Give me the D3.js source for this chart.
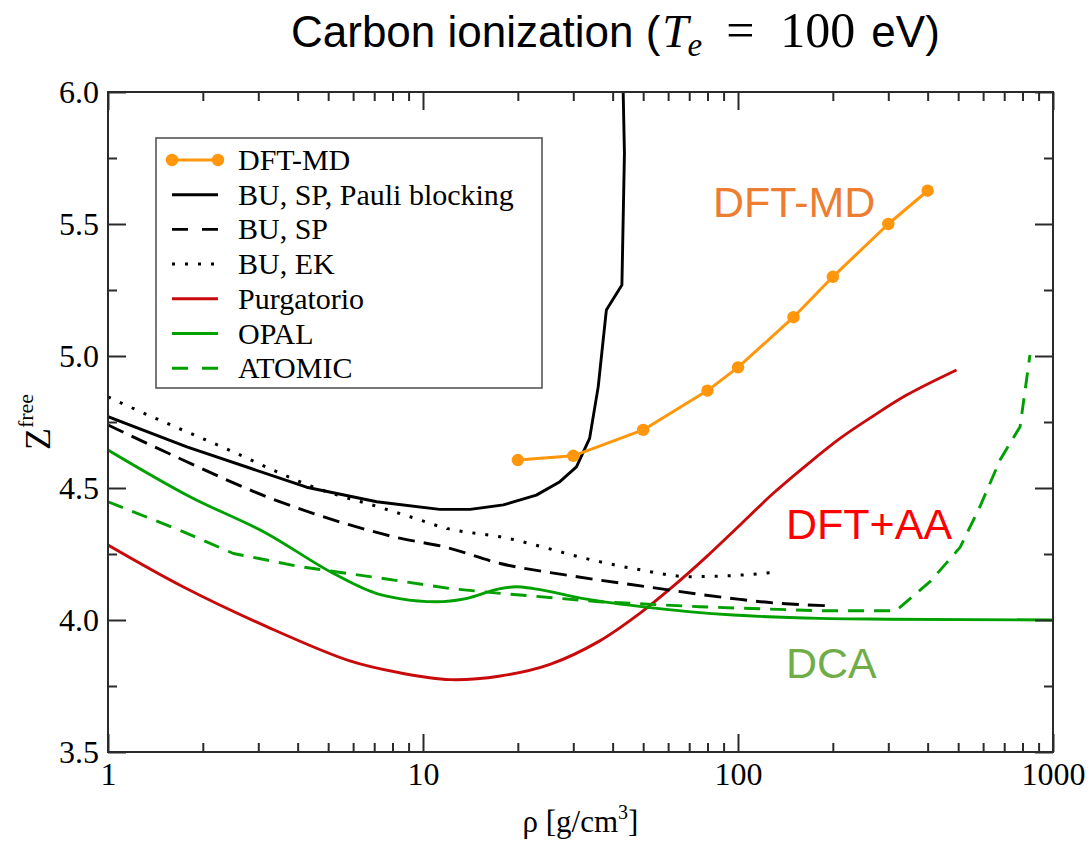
<!DOCTYPE html>
<html>
<head>
<meta charset="utf-8">
<script src="https://cdn.jsdelivr.net/npm/d3@7"></script>
<style>
  body { margin: 0; background: #fff; }
  svg text { fill: #000; }
</style>
</head>
<body>
<svg id="chart" width="1091" height="842"></svg>
<script>
// ---- Data: mean free charge of carbon at T_e = 100 eV versus mass density ----
const dftmdRho = [20, 30, 50, 80, 100, 150, 200, 300, 400];
const dftmdZ   = [4.606, 4.622, 4.72, 4.869, 4.957, 5.147, 5.300, 5.500, 5.626];

const pauliRho = [1, 1.78, 4.27, 7.13, 11.3, 14.1, 18.0, 22.9, 27.2, 30.7, 33.8, 36.0, 38.2, 42.8, 43.6, 43.2];
const pauliZ   = [4.77, 4.656, 4.503, 4.448, 4.419, 4.419, 4.436, 4.473, 4.524, 4.58, 4.688, 4.884, 5.174, 5.269, 5.768, 6.0];

const buspRho = [1, 1.73, 3.19, 5.86, 8.43, 11.6, 17.6, 28.6, 51.2, 101.5, 129, 194];
const buspZ   = [4.739, 4.606, 4.467, 4.36, 4.31, 4.278, 4.214, 4.17, 4.126, 4.078, 4.065, 4.054];

const buekRho = [1, 1.12, 2.38, 4.6, 7.48, 9.1, 11.9, 17.6, 36.3, 48.9, 70.3, 101.5, 126];
const buekZ   = [4.845, 4.818, 4.648, 4.499, 4.423, 4.391, 4.347, 4.315, 4.221, 4.19, 4.164, 4.17, 4.179];

const purgRho = [1, 1.73, 3.19, 5.86, 8.43, 12.2, 17.6, 25.3, 36.3, 48.9, 62.3, 79.5, 101.5, 129.4, 165, 210.8, 268.8, 343, 494];
const purgZ   = [4.284, 4.126, 3.975, 3.845, 3.80, 3.774, 3.788, 3.832, 3.92, 4.026, 4.128, 4.24, 4.36, 4.48, 4.587, 4.688, 4.773, 4.852, 4.947];

const opalRho = [1, 1.82, 3.19, 5.2, 7.13, 8.43, 11.0, 13.7, 17.6, 19.8, 22.4, 32.3, 52.5, 96.7, 182, 300, 1000];
const opalZ   = [4.644, 4.467, 4.328, 4.176, 4.1, 4.081, 4.069, 4.081, 4.119, 4.126, 4.119, 4.081, 4.047, 4.019, 4.006, 4.003, 4.0];

const atomicRho = [1, 1.73, 2.5, 4.07, 7.48, 12.2, 17.6, 36.3, 75.7, 182, 317, 407, 507, 586, 679, 786, 845];
const atomicZ   = [4.448, 4.335, 4.252, 4.202, 4.157, 4.119, 4.101, 4.069, 4.05, 4.035, 4.035, 4.145, 4.275, 4.429, 4.606, 4.732, 5.004];

const legendLabels = ["DFT-MD", "BU, SP, Pauli blocking", "BU, SP", "BU, EK", "Purgatorio", "OPAL", "ATOMIC"];

const xMajorTicks = [1, 10, 100, 1000];
const xMinorTicks = [2,3,4,5,6,7,8,9, 20,30,40,50,60,70,80,90, 200,300,400,500,600,700,800,900];
const yMajorTicks = [3.5, 4.0, 4.5, 5.0, 5.5, 6.0];
const yMinorTicks = [3.75, 4.25, 4.75, 5.25, 5.75];

const annotationTexts = ["DFT-MD", "DFT+AA", "DCA"];

// ---- Layout ----
const svg = d3.select("#chart");
const plot = { left: 108, right: 1053, top: 92, bottom: 752 };

const x = d3.scaleLog().domain([1, 1000]).range([plot.left, plot.right]);
const y = d3.scaleLinear().domain([3.5, 6.0]).range([plot.bottom, plot.top]);

const serif = "'Liberation Serif', 'Times New Roman', serif";
const sans = "'Liberation Sans', Arial, sans-serif";
const axisColor = "#2a2a2a";

// clip for the curves
svg.append("defs").append("clipPath").attr("id", "plotClip")
  .append("rect")
  .attr("x", plot.left).attr("y", plot.top)
  .attr("width", plot.right - plot.left).attr("height", plot.bottom - plot.top);

// ---- Series styles ----
const zip = (a, b) => a.map((v, i) => [v, b[i]]);
const series = [
  { key: "dftmd",  pts: zip(dftmdRho, dftmdZ),   color: "#ff960c", width: 3,   dash: null,    curve: d3.curveLinear,     markers: true },
  { key: "pauli",  pts: zip(pauliRho, pauliZ),   color: "#000",    width: 2.9, dash: null,    curve: d3.curveLinear },
  { key: "busp",   pts: zip(buspRho, buspZ),     color: "#000",    width: 2.9, dash: "17,9",  curve: d3.curveMonotoneX },
  { key: "buek",   pts: zip(buekRho, buekZ),     color: "#000",    width: 3,   dash: "3,10",  curve: d3.curveMonotoneX },
  { key: "purg",   pts: zip(purgRho, purgZ),     color: "#c80a0a", width: 2.9, dash: null,    curve: d3.curveCatmullRom.alpha(0.5) },
  { key: "opal",   pts: zip(opalRho, opalZ),     color: "#00a000", width: 2.9, dash: null,    curve: d3.curveMonotoneX },
  { key: "atomic", pts: zip(atomicRho, atomicZ), color: "#00a000", width: 2.9, dash: "16,10", curve: d3.curveLinear }
];

// ---- Curves ----
const curves = svg.append("g").attr("clip-path", "url(#plotClip)");
// model curves first, DFT-MD on top
const drawOrder = ["purg", "opal", "atomic", "buek", "busp", "pauli", "dftmd"];
drawOrder.forEach(k => {
  const s = series.find(d => d.key === k);
  const line = d3.line().x(d => x(d[0])).y(d => y(d[1])).curve(s.curve);
  curves.append("path")
    .datum(s.pts)
    .attr("d", line)
    .attr("fill", "none")
    .attr("stroke", s.color)
    .attr("stroke-width", s.width)
    .attr("stroke-linejoin", "round")
    .attr("stroke-dasharray", s.dash);
  if (s.markers) {
    curves.selectAll(null).data(s.pts).enter().append("circle")
      .attr("cx", d => x(d[0])).attr("cy", d => y(d[1]))
      .attr("r", 6.2).attr("fill", s.color);
  }
});

// ---- Axes (ticks point inward on all four sides) ----
function styleAxis(g) {
  g.select(".domain").remove();
  g.selectAll(".tick line").attr("stroke", axisColor).attr("stroke-width", 2);
  g.selectAll(".tick text").attr("font-family", serif).attr("font-size", 32).attr("fill", "#000");
}
const major = 18, minor = 9;

svg.append("g").attr("transform", `translate(0,${plot.bottom})`)
  .call(d3.axisBottom(x).tickValues(xMajorTicks).tickFormat(d3.format("d"))
    .tickSizeInner(-major).tickSizeOuter(0).tickPadding(10)).call(styleAxis);
svg.append("g").attr("transform", `translate(0,${plot.bottom})`)
  .call(d3.axisBottom(x).tickValues(xMinorTicks).tickFormat("")
    .tickSizeInner(-minor).tickSizeOuter(0)).call(styleAxis);
svg.append("g").attr("transform", `translate(0,${plot.top})`)
  .call(d3.axisTop(x).tickValues(xMajorTicks).tickFormat("")
    .tickSizeInner(-major).tickSizeOuter(0)).call(styleAxis);
svg.append("g").attr("transform", `translate(0,${plot.top})`)
  .call(d3.axisTop(x).tickValues(xMinorTicks).tickFormat("")
    .tickSizeInner(-minor).tickSizeOuter(0)).call(styleAxis);

svg.append("g").attr("transform", `translate(${plot.left},0)`)
  .call(d3.axisLeft(y).tickValues(yMajorTicks).tickFormat(d3.format(".1f"))
    .tickSizeInner(-major).tickSizeOuter(0).tickPadding(9)).call(styleAxis);
svg.append("g").attr("transform", `translate(${plot.left},0)`)
  .call(d3.axisLeft(y).tickValues(yMinorTicks).tickFormat("")
    .tickSizeInner(-minor).tickSizeOuter(0)).call(styleAxis);
svg.append("g").attr("transform", `translate(${plot.right},0)`)
  .call(d3.axisRight(y).tickValues(yMajorTicks).tickFormat("")
    .tickSizeInner(-major).tickSizeOuter(0)).call(styleAxis);
svg.append("g").attr("transform", `translate(${plot.right},0)`)
  .call(d3.axisRight(y).tickValues(yMinorTicks).tickFormat("")
    .tickSizeInner(-minor).tickSizeOuter(0)).call(styleAxis);

// frame
svg.append("rect")
  .attr("x", plot.left).attr("y", plot.top)
  .attr("width", plot.right - plot.left).attr("height", plot.bottom - plot.top)
  .attr("fill", "none").attr("stroke", axisColor).attr("stroke-width", 2);

// ---- Axis titles ----
const xt = svg.append("text")
  .attr("x", (plot.left + plot.right) / 2).attr("y", 832)
  .attr("text-anchor", "middle").attr("font-family", serif).attr("font-size", 31);
xt.append("tspan").text("ρ [g/cm");
xt.append("tspan").attr("font-size", 20).attr("dy", -13).text("3");
xt.append("tspan").attr("dy", 13).text("]");

const yt = svg.append("text")
  .attr("transform", `translate(50,${(plot.top + plot.bottom) / 2}) rotate(-90)`)
  .attr("text-anchor", "middle").attr("font-family", serif).attr("font-size", 36);
yt.append("tspan").text("Z");
yt.append("tspan").attr("font-size", 22).attr("dy", -17).text("free");

// ---- Legend ----
const leg = svg.append("g");
leg.append("rect")
  .attr("x", 156).attr("y", 138).attr("width", 386).attr("height", 250)
  .attr("fill", "#fff").attr("stroke", "#555").attr("stroke-width", 1.6);
const legendOrder = ["dftmd", "pauli", "busp", "buek", "purg", "opal", "atomic"];
legendLabels.forEach((label, i) => {
  const s = series.find(d => d.key === legendOrder[i]);
  const cy = 160 + i * 34.7;
  leg.append("line")
    .attr("x1", 172).attr("x2", 218).attr("y1", cy).attr("y2", cy)
    .attr("stroke", s.color).attr("stroke-width", s.width)
    .attr("stroke-dasharray", (s.dash === "17,9" || s.dash === "16,10") ? "16,14" : s.dash);
  if (s.markers) {
    [172, 218].forEach(cx => leg.append("circle").attr("cx", cx).attr("cy", cy).attr("r", 6.2).attr("fill", s.color));
  }
  leg.append("text")
    .attr("x", 238).attr("y", cy + 10)
    .attr("font-family", serif).attr("font-size", 30)
    .text(label);
});

// ---- In-plot annotations ----
const annotationStyle = [
  { color: "#ed7d31", xAt: 713, yAt: 217 },
  { color: "#ff0000", xAt: 786, yAt: 539 },
  { color: "#70ad47", xAt: 786, yAt: 678 }
];
annotationTexts.forEach((t, i) => {
  svg.append("text")
    .attr("x", annotationStyle[i].xAt).attr("y", annotationStyle[i].yAt)
    .attr("font-family", sans).attr("font-size", 43)
    .style("fill", annotationStyle[i].color)
    .text(t);
});

// ---- Title: plain words in sans, the equation part in serif math style ----
const title = svg.append("text")
  .attr("x", 291).attr("y", 47)
  .attr("font-family", sans).attr("font-size", 44);
title.append("tspan").text("Carbon ionization (");
title.append("tspan").attr("font-family", serif).attr("font-style", "italic")
  .attr("font-size", 47).attr("dx", 2).text("T");
title.append("tspan").attr("font-family", serif).attr("font-style", "italic")
  .attr("font-size", 33).attr("dy", 9).attr("dx", -1).text("e");
title.append("tspan").attr("font-family", serif).attr("font-size", 50)
  .attr("dy", -9).attr("dx", 24).text("=");
title.append("tspan").attr("font-family", serif).attr("font-size", 50)
  .attr("dx", 26).text("100");
title.append("tspan").attr("dx", 16).text("eV)");
</script>
</body>
</html>
